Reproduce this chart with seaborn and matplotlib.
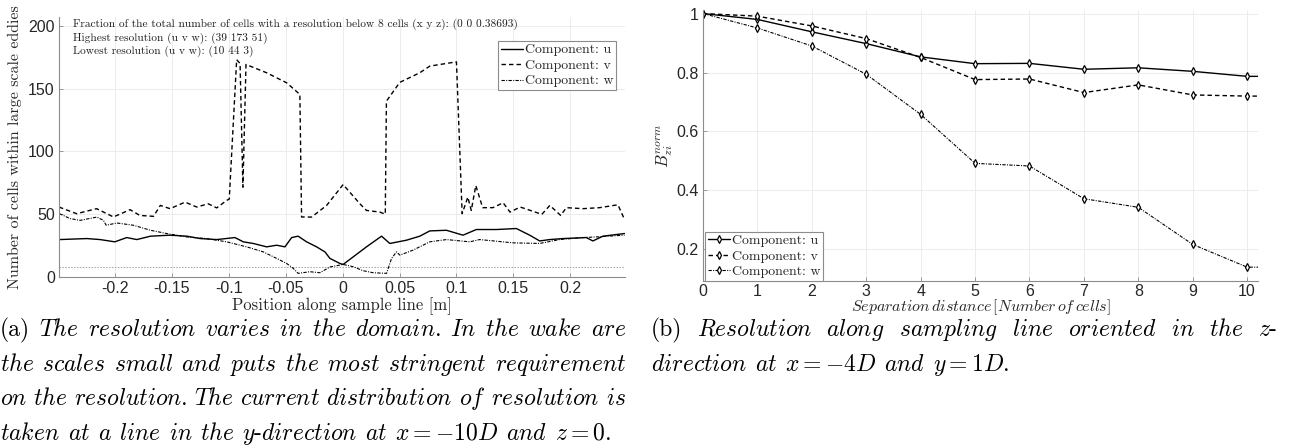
import numpy as np
import pandas as pd
import matplotlib
matplotlib.use("Agg")
import matplotlib.pyplot as plt
from matplotlib.ticker import FuncFormatter
import seaborn as sns

# ---------------------------------------------------------------------------
# (a) Number of cells within large scale eddies along the sample line
# ---------------------------------------------------------------------------
pos_u = [-0.2486, -0.2246, -0.2129, -0.2, -0.1895, -0.1807, -0.1686, -0.1515,
         -0.1368, -0.125, -0.1105, -0.0945, -0.0872, -0.0784, -0.0667, -0.0579,
         -0.0506, -0.0447, -0.039, -0.0316, -0.0228, -0.0155, -0.0111, -0.0024,
         0.0005, 0.0093, 0.021, 0.0342, 0.0415, 0.0561, 0.0678, 0.0766, 0.0912,
         0.1058, 0.1175, 0.1351, 0.1526, 0.1643, 0.1731, 0.1818, 0.1935, 0.214,
         0.2198, 0.2286, 0.2476]
cells_u = [29.8, 30.6, 29.8, 28.0, 31.4, 29.8, 32.5, 33.3,
           32.5, 30.6, 29.8, 31.4, 28.0, 26.7, 24.0, 25.3,
           24.0, 31.4, 32.5, 28.0, 24.0, 20.0, 14.8, 10.8,
           10.0, 16.0, 24.0, 32.5, 26.7, 29.3, 32.5, 36.7, 37.2,
           33.3, 37.8, 37.8, 38.6, 33.3, 28.7, 29.8, 30.6, 31.4,
           28.7, 32.5, 34.6]

pos_v = [-0.249, -0.2336, -0.216, -0.2012, -0.1866, -0.178, -0.166, -0.160,
         -0.1515, -0.1383, -0.128, -0.118, -0.1105, -0.1018, -0.0995, -0.093,
         -0.090, -0.0875, -0.0848, -0.0667, -0.0491, -0.0375, -0.036, -0.0272,
         -0.014, 0.0005, 0.0152, 0.021, 0.0327, 0.0375, 0.0385, 0.0503, 0.0678,
         0.0766, 0.1, 0.105, 0.110, 0.113, 0.117, 0.123, 0.132, 0.141, 0.147,
         0.156, 0.175, 0.182, 0.1915, 0.1965, 0.211, 0.2257, 0.2418, 0.2476]
cells_v = [55.7, 50.4, 54.4, 47.8, 53.6, 49.0, 48.3, 57.0,
           54.4, 59.6, 55.7, 58.3, 55.0, 61.0, 62.0, 173.0,
           170.0, 71.5, 169.2, 162.6, 154.6, 145.4, 47.8, 47.7,
           57.0, 73.6, 58.3, 53.0, 51.7, 50.0, 140.0, 155.0, 162.6,
           167.9, 171.3, 50.4, 63.6, 53.0, 72.8, 55.2, 55.2, 59.1, 51.7,
           55.7, 49.9, 57.0, 49.0, 55.2, 54.4, 55.2, 57.5, 45.7]

pos_w = [-0.2486, -0.2392, -0.2304, -0.2158, -0.21, -0.2076, -0.1982, -0.1837,
         -0.1686, -0.1544, -0.1368, -0.1193, -0.1018, -0.0842, -0.0696, -0.0579,
         -0.0491, -0.0433, -0.039, -0.0287, -0.0199, -0.0111, 0.0005, 0.0093,
         0.0181, 0.0268, 0.0386, 0.043, 0.0474, 0.0503, 0.0619, 0.0766, 0.0912,
         0.1117, 0.1204, 0.1496, 0.1731, 0.1905, 0.2111, 0.2228, 0.2476]
cells_w = [50.4, 46.5, 45.1, 47.7, 45.1, 41.2, 43.0, 41.2,
           37.2, 34.6, 31.9, 30.6, 28.0, 24.0, 20.0, 14.8,
           10.8, 6.9, 2.9, 4.2, 3.4, 8.0, 10.0, 8.2,
           5.0, 3.4, 2.9, 14.8, 20.0, 17.4, 21.4, 28.0, 29.8,
           28.0, 29.8, 27.2, 26.7, 29.8, 31.4, 31.9, 33.3]

threshold_cells = 8
summary_text = [
    "Fraction of the total number of cells with a resolution below 8 cells (x y z): (0 0 0.38693)",
    "Highest resolution (u v w): (39 173 51)",
    "Lowest resolution (u v w): (10 44 3)",
]
pos_ticks = [-0.2, -0.15, -0.1, -0.05, 0, 0.05, 0.1, 0.15, 0.2]

# ---------------------------------------------------------------------------
# (b) Normalised correlation against separation distance
# ---------------------------------------------------------------------------
separation = [0, 1, 2, 3, 4, 5, 6, 7, 8, 9, 10, 11]
bnorm_u = [1.0, 0.980, 0.938, 0.898, 0.853, 0.830, 0.831, 0.811, 0.816, 0.804, 0.787, 0.787]
bnorm_v = [1.0, 0.991, 0.958, 0.915, 0.851, 0.776, 0.778, 0.732, 0.758, 0.724, 0.720, 0.720]
bnorm_w = [1.0, 0.951, 0.890, 0.794, 0.658, 0.492, 0.483, 0.372, 0.343, 0.217, 0.140, 0.140]

components = ["u", "v", "w"]

# ---------------------------------------------------------------------------
sns.set_style("whitegrid", {
    "grid.color": "#e9e9e9",
    "axes.edgecolor": "#8c8c8c",
    "xtick.direction": "in",
    "ytick.direction": "in",
})
plt.rcParams.update({
    "font.family": ["Liberation Sans", "DejaVu Sans"],
    "mathtext.fontset": "cm",
    "axes.unicode_minus": False,
    "axes.linewidth": 0.8,
    "grid.linewidth": 0.6,
    "xtick.color": "#8c8c8c",
    "ytick.color": "#8c8c8c",
    "xtick.labelcolor": "#262626",
    "ytick.labelcolor": "#262626",
    "xtick.labelsize": 11.5,
    "ytick.labelsize": 11.5,
    "xtick.major.size": 3,
    "ytick.major.size": 3,
    "xtick.major.width": 0.6,
    "ytick.major.width": 0.6,
    "xtick.bottom": True,
    "ytick.left": True,
})

W_PX, H_PX, DPI = 1300, 445, 100
fig = plt.figure(figsize=(W_PX / DPI, H_PX / DPI), dpi=DPI)


def px_axes(left, top, right, bottom):
    return fig.add_axes([left / W_PX, 1 - bottom / H_PX,
                         (right - left) / W_PX, (bottom - top) / H_PX])


fmt_g = FuncFormatter(lambda v, _: f"{v:g}")
serif = "cmr10"

styles = {
    "u": dict(linestyle="-", linewidth=1.0),
    "v": dict(linestyle=(0, (3.2, 2.2)), linewidth=1.0),
    "w": dict(linestyle=(0, (3.0, 1.2, 0.9, 1.2)), linewidth=0.8),
}

legend_kw = dict(prop={"family": serif, "size": 10}, frameon=True,
                 fancybox=False, framealpha=1, edgecolor="#8c8c8c",
                 handlelength=1.6, handletextpad=0.1, borderpad=0.2,
                 labelspacing=0.2, borderaxespad=0)

# ----------------------------- panel (a) -----------------------------------
ax1 = px_axes(59, 17, 625, 277)
series_a = {"u": (pos_u, cells_u), "v": (pos_v, cells_v), "w": (pos_w, cells_w)}
for comp in components:
    xs, ys = series_a[comp]
    sns.lineplot(x=np.array(xs), y=np.array(ys), ax=ax1, color="black",
                 estimator=None, sort=False, label=f"Component: {comp}",
                 **styles[comp])
ax1.axhline(threshold_cells, color="#a0a0a0", linewidth=0.7,
            linestyle=(0, (1.5, 1.5)), zorder=1)
ax1.set_xlim(-0.249, 0.248)
ax1.set_ylim(0, 207)
ax1.set_xticks(pos_ticks)
ax1.set_yticks([0, 50, 100, 150, 200])
ax1.xaxis.set_major_formatter(fmt_g)
ax1.yaxis.set_major_formatter(fmt_g)
ax1.tick_params(axis="x", pad=3)
ax1.tick_params(axis="y", pad=3)
for s in ("top", "right"):
    ax1.spines[s].set_visible(False)
ax1.set_xlabel("Position along sample line [m]", family=serif, fontsize=12,
               color="#262626", va="top")
ax1.xaxis.set_label_coords(0.5, -0.077)
ax1.set_ylabel("Number of cells within large scale eddies", family=serif,
               fontsize=11.5, color="#262626")
ax1.yaxis.set_label_coords(-0.066, 0.5)
ax1.text(0.025, 0.993, "\n".join(summary_text), transform=ax1.transAxes,
         family=serif, fontsize=8.2, va="top", ha="left", linespacing=1.25,
         color="#202020")
leg1 = ax1.legend(loc="upper right", bbox_to_anchor=(0.984, 0.908), **legend_kw)
leg1.get_frame().set_linewidth(0.8)

# ----------------------------- panel (b) -----------------------------------
ax2 = px_axes(703, 10, 1258, 281)
series_b = {"u": bnorm_u, "v": bnorm_v, "w": bnorm_w}
for comp in components:
    sns.lineplot(x=np.array(separation), y=np.array(series_b[comp]), ax=ax2,
                 color="black", estimator=None, sort=False, marker="d",
                 markersize=4, markerfacecolor="white", markeredgecolor="black",
                 markeredgewidth=0.9, label=f"Component: {comp}",
                 **styles[comp])
ax2.set_xlim(0, 10.2)
ax2.set_ylim(0.093, 1.012)
ax2.set_xticks(range(0, 11))
ax2.set_yticks([0.2, 0.4, 0.6, 0.8, 1.0])
ax2.xaxis.set_major_formatter(fmt_g)
ax2.yaxis.set_major_formatter(fmt_g)
ax2.tick_params(axis="x", pad=2.5)
ax2.tick_params(axis="y", pad=3)
for s in ("top", "right"):
    ax2.spines[s].set_visible(False)
ax2.set_xlabel(r"$Separation\,distance\,[Number\,of\,cells]$", fontsize=11.5,
               color="#262626", va="top")
ax2.xaxis.set_label_coords(0.5, -0.061)
ax2.set_ylabel(r"$B_{zi}^{norm}$", fontsize=12, color="#262626")
ax2.yaxis.set_label_coords(-0.05, 0.5)
leg2 = ax2.legend(loc="lower left", bbox_to_anchor=(0.004, 0.0), **legend_kw)
leg2.get_frame().set_linewidth(0.8)

# ----------------------------- captions ------------------------------------
CAP_SIZE = 17


def it(word):
    return r"$\mathit{" + word + "}$"


def italic_tokens(sentence):
    out = []
    for w in sentence.split():
        tail = ""
        while w and w[-1] in ".,":
            tail = w[-1] + tail
            w = w[:-1]
        out.append(it(w) + tail)
    return out


caption_a = [
    (["(a)"] + italic_tokens("The resolution varies in the domain. In the wake are"), True),
    (italic_tokens("the scales small and puts the most stringent requirement"), True),
    (italic_tokens("on the resolution. The current distribution of resolution is"), True),
    (italic_tokens("taken at a line in the") + [r"$y$-" + it("direction")]
     + italic_tokens("at") + [r"$x = -10D$"] + italic_tokens("and") + [r"$z = 0$."], False),
]
caption_b = [
    (["(b)"] + italic_tokens("Resolution along sampling line oriented in the")
     + [r"$z$-"], True),
    ([it("direction"), it("at"), r"$x = -4D$", it("and"), r"$y = 1D$."], False),
]

renderer = fig.canvas.get_renderer()


def caption_line(tokens, x0, x1, baseline, justify):
    texts = [fig.text(0, 1 - baseline / H_PX, t, family=serif,
                      fontsize=CAP_SIZE, va="baseline", ha="left",
                      color="black") for t in tokens]
    widths = [t.get_window_extent(renderer).width for t in texts]
    if justify and len(texts) > 1:
        gap = (x1 - x0 - sum(widths)) / (len(texts) - 1)
    else:
        gap = 0.33 * CAP_SIZE * DPI / 72
    x = x0
    for t, w in zip(texts, widths):
        t.set_x(x / W_PX)
        x += w + gap


baselines = [336, 370.7, 405.3, 440]
for (toks, just), b in zip(caption_a, baselines):
    caption_line(toks, 0, 626, b, just)
for (toks, just), b in zip(caption_b, baselines):
    caption_line(toks, 651, 1277, b, just)

fig.savefig("out.png", dpi=DPI)
